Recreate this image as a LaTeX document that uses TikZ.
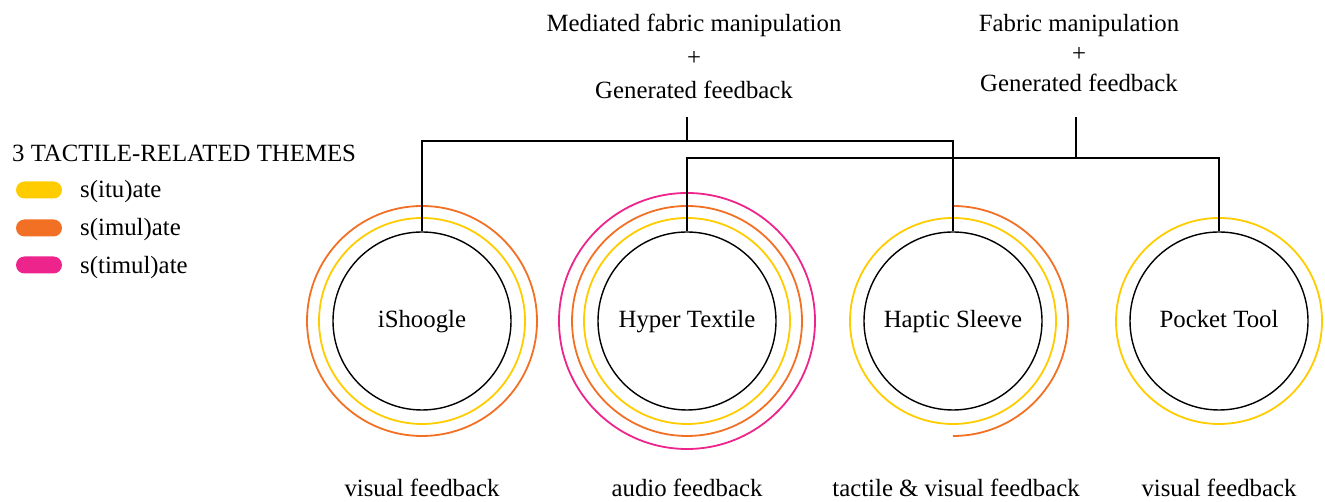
\documentclass[tikz,border=0pt]{standalone}
\usepackage{fontspec}
\setmainfont{Liberation Serif}
\usetikzlibrary{positioning,calc}
\usepackage{xcolor}
\definecolor{situcol}{RGB}{255,204,0}
\definecolor{simucol}{RGB}{242,112,36}
\definecolor{stimcol}{RGB}{236,36,140}

\begin{document}
\begin{tikzpicture}[x=1pt,y=1pt,
            every node/.style = {inner sep=0pt, font=\fontsize{24.8}{30}\selectfont},
            tool/.style = {draw, circle, minimum size=178pt, line width=1.4pt, text height=18pt, text depth=5pt},
            link/.style = {line width=1.4pt},
            situate/.style = {draw=situcol, line width=1.8pt},
            simulate/.style = {draw=simucol, line width=1.8pt},
            stimulate/.style = {draw=stimcol, line width=1.8pt},
            pill/.style = {rectangle, rounded corners=8.5pt, minimum width=46pt, minimum height=17pt}
            ]
            \useasboundingbox (0,0) rectangle (1325,502);

            % legend
            \node[anchor=base west] (themes) at (12,340) {3 TACTILE-RELATED THEMES};
            \node[pill, fill=situcol] (situkey) at (39,312) {};
            \node[pill, fill=simucol] (simukey) at (39,274) {};
            \node[pill, fill=stimcol] (stimkey) at (39,237) {};
            \node[anchor=base west] (situtext) at (80,304.5) {s(itu)ate};
            \node[anchor=base west] (simutext) at (80,266) {s(imul)ate};
            \node[anchor=base west] (stimtext) at (80,228.5) {s(timul)ate};

            % prototypes
            \node[tool] (ishoogle) at (422,181) {iShoogle};
            \node[tool] (hyper) at (687,181) {Hyper Textile};
            \node[tool] (haptic) at (953,181) {Haptic Sleeve};
            \node[tool] (pocket) at (1219,181) {Pocket Tool};

            % theme rings
            \draw[situate] (ishoogle.center) circle[radius=103];
            \draw[simulate] (ishoogle.center) circle[radius=115];
            \draw[situate] (hyper.center) circle[radius=103];
            \draw[simulate] (hyper.center) circle[radius=115];
            \draw[stimulate] (hyper.center) circle[radius=128];
            \draw[situate] (haptic.center) circle[radius=103];
            \draw[simulate] (haptic.center) ++(0,115) arc[start angle=90, end angle=-90, radius=115];
            \draw[situate] (pocket.center) circle[radius=103];

            % feedback labels
            \node[anchor=base] (ishooglefb) at (ishoogle |- 0,5) {visual feedback};
            \node[anchor=base] (hyperfb) at (hyper |- 0,5) {audio feedback};
            \node[anchor=base] (hapticfb) at (956,5) {tactile \& visual feedback};
            \node[anchor=base] (pocketfb) at (pocket |- 0,5) {visual feedback};

            % interaction groups
            \node[anchor=north, align=center, font=\fontsize{24.8}{33.5}\selectfont] (mediated) at (694,488)
                {Mediated fabric manipulation\\+\\Generated feedback};
            \node[anchor=north, align=center] (fabric) at (1079,488)
                {Fabric manipulation\\+\\Generated feedback};
            \coordinate (medstub) at (687,385);
            \coordinate (medjoin) at (687,361);
            \coordinate (fabstub) at (1076,385);
            \coordinate (fabjoin) at (1076,344);
            \draw[link] (medstub) -- (medjoin);
            \draw[link] (ishoogle.north) |- (medjoin) -| (haptic.north);
            \draw[link] (fabstub) -- (fabjoin);
            \draw[link] (hyper.north) |- (fabjoin) -| (pocket.north);
        \end{tikzpicture}
\end{document}
